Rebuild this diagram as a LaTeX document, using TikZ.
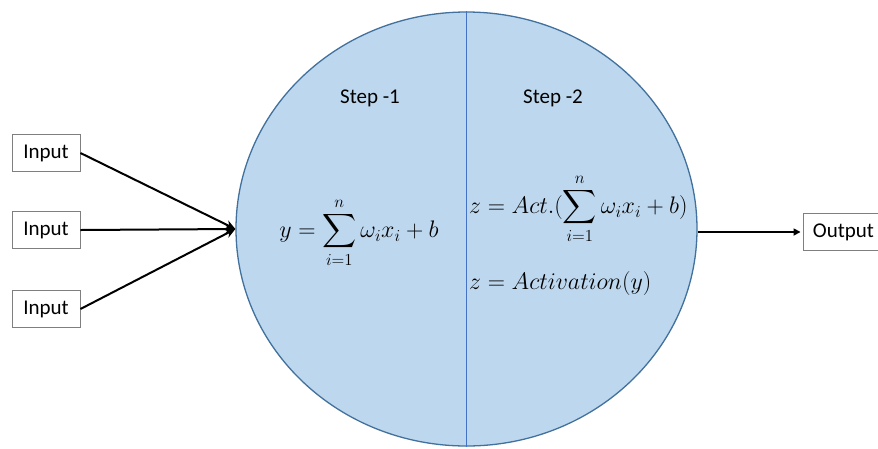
\RequirePackage{fix-cm}
\documentclass[tikz,border=0pt]{standalone}
\usepackage{amsmath}
\usepackage{graphicx}
\usepackage{fontspec}
\setmainfont{Carlito}
\usetikzlibrary{arrows.meta,shapes.geometric}
\definecolor{cellfill}{HTML}{BDD7EE}
\definecolor{celledge}{HTML}{41719C}
\definecolor{divline}{HTML}{4472C4}
\definecolor{boxedge}{HTML}{7F7F7F}
\tikzset{
  iobox/.style={draw=boxedge, line width=0.9pt, fill=white, minimum width=68pt, minimum height=37pt, inner sep=0pt, font=\fontsize{21}{25}\selectfont},
  inarrow/.style={draw=black, line width=2pt, -{Stealth[length=10pt,width=9pt]}},
  outarrow/.style={draw=black, line width=1.6pt, -{Triangle[length=7pt,width=7pt]}},
  steplabel/.style={font=\fontsize{21}{25}\selectfont, inner sep=0pt},
  formula/.style={font=\fontsize{21}{25}\selectfont, inner sep=0pt}
}
\begin{document}
\begin{tikzpicture}[x=1pt,y=-1pt]
\clip (0,0) rectangle (878,448);
\fill[white] (0,0) rectangle (878,448);
\node[ellipse, draw=celledge, line width=1.3pt, fill=cellfill, minimum width=461pt, minimum height=434pt, inner sep=0pt] (neuron) at (466.5,229) {};
\draw[divline, line width=1.3pt] (neuron.north) -- (neuron.south);
\node[steplabel] (s1) at (370,98) {Step -1};
\node[steplabel] (s2) at (553,98) {Step -2};
\node[formula] (f1) at (359,233) {\scalebox{1.14}{$\displaystyle y=\sum_{i=1}^{n}\omega_i x_i+b$}};
\node[formula, anchor=west] (f2) at (469,209) {\scalebox{1.14}{$\displaystyle z=Act.(\sum_{i=1}^{n}\omega_i x_i+b)$}};
\node[formula, anchor=west] (f3) at (469,284) {\scalebox{1.14}{$z=Activation(y)$}};
\node[iobox] (in1) at (46,153) {Input};
\node[iobox] (in2) at (46,230) {Input};
\node[iobox] (in3) at (46,309) {Input};
\node[iobox, minimum width=81pt] (out) at (843.5,232) {Output};
\draw[inarrow] (in1.east) -- (neuron.west);
\draw[inarrow] (in2.east) -- (neuron.west);
\draw[inarrow] (in3.east) -- (neuron.west);
\draw[outarrow, shorten >=2pt] (neuron.east |- out.west) -- (out.west);
\end{tikzpicture}
\end{document}
